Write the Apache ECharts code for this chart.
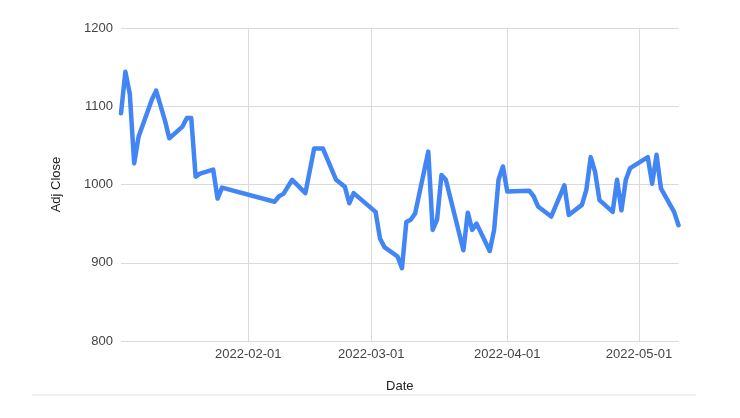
<!DOCTYPE html>
<html>
<head>
<meta charset="utf-8">
<script src="https://cdn.jsdelivr.net/npm/echarts@6/dist/echarts.min.js"></script>
<style>html,body{margin:0;padding:0;background:#fff;}#chart{width:740px;height:418px;}</style>
</head>
<body>
<div id="chart"></div>
<script>
const dates = [
  '2022-01-03','2022-01-04','2022-01-05','2022-01-06','2022-01-07','2022-01-10','2022-01-11','2022-01-13','2022-01-14','2022-01-17',
  '2022-01-18','2022-01-19','2022-01-20','2022-01-21','2022-01-24','2022-01-25','2022-01-26','2022-02-07','2022-02-08','2022-02-09',
  '2022-02-11','2022-02-14','2022-02-16','2022-02-18','2022-02-21','2022-02-23','2022-02-24','2022-02-25','2022-03-02','2022-03-03',
  '2022-03-04','2022-03-07','2022-03-08','2022-03-09','2022-03-10','2022-03-11','2022-03-14','2022-03-15','2022-03-16','2022-03-17',
  '2022-03-18','2022-03-22','2022-03-23','2022-03-24','2022-03-25','2022-03-28','2022-03-29','2022-03-30','2022-03-31','2022-04-01',
  '2022-04-06','2022-04-07','2022-04-08','2022-04-11','2022-04-14','2022-04-15','2022-04-18','2022-04-19','2022-04-20','2022-04-21',
  '2022-04-22','2022-04-25','2022-04-26','2022-04-27','2022-04-28','2022-04-29','2022-05-03','2022-05-04','2022-05-05','2022-05-06',
  '2022-05-09','2022-05-10'
];
const adjClose = [
  1091,1144,1116,1027,1061,1108,1120,1082,1059,1074,
  1085,1085,1010,1014,1019,982,996,978,985,988,
  1006,989,1046,1046,1006,997,976,989,965,931,
  920,908,893,952,955,963,1042,942,955,1012,
  1006,916,964,942,950,915,942,1006,1023,991,
  992,985,972,959,999,961,974,993,1035,1016,
  980,965,1006,967,1006,1021,1035,1001,1038,995,
  965,948
];
const xMin = '2022-01-03';
const xMax = '2022-05-10';
const yMin = 800, yMax = 1200, yStep = 100;
const xTitle = 'Date';
const yTitle = 'Adj Close';

const font = "'Liberation Sans', Arial, sans-serif";
const chart = echarts.init(document.getElementById('chart'), null, {renderer: 'canvas'});
const pad = n => (n < 10 ? '0' : '') + n;
chart.setOption({
  animation: false,
  backgroundColor: '#ffffff',
  grid: {left: 121, right: 61.5, top: 28, bottom: 77, containLabel: false},
  xAxis: {
    type: 'time',
    min: xMin,
    max: xMax,
    name: xTitle,
    nameLocation: 'middle',
    nameGap: 39,
    nameTextStyle: {color: '#222', fontSize: 13, fontFamily: font},
    axisLine: {show: false},
    axisTick: {show: false},
    splitNumber: 4,
    minInterval: 28 * 86400000,
    maxInterval: 31 * 86400000,
    axisLabel: {
      color: '#444', fontSize: 13, fontFamily: font, margin: 7,
      showMinLabel: false, showMaxLabel: false,
      formatter: function (v) { const d = new Date(v); return d.getFullYear() + '-' + pad(d.getMonth() + 1) + '-' + pad(d.getDate()); }
    },
    splitLine: {show: true, showMinLine: false, showMaxLine: false, lineStyle: {color: '#d9d9d9', width: 1}}
  },
  yAxis: {
    type: 'value',
    min: yMin, max: yMax, interval: yStep,
    name: yTitle,
    nameLocation: 'middle',
    nameGap: 58,
    nameTextStyle: {color: '#222', fontSize: 13, fontFamily: font},
    axisLine: {show: false},
    axisTick: {show: false},
    axisLabel: {color: '#444', fontSize: 13, fontFamily: font, margin: 8, formatter: v => String(v)},
    splitLine: {show: true, lineStyle: {color: '#d9d9d9', width: 1}}
  },
  graphic: [{
    type: 'line', shape: {x1: 32, y1: 395, x2: 696, y2: 395},
    style: {stroke: '#ebebeb', lineWidth: 1.5}, silent: true
  }],
  series: [{
    type: 'line',
    data: dates.map((d, i) => [d, adjClose[i]]),
    showSymbol: false,
    symbol: 'none',
    lineStyle: {color: '#4285f4', width: 4.5, join: 'round', cap: 'round'},
    itemStyle: {color: '#4285f4'}
  }]
});
</script>
</body>
</html>
